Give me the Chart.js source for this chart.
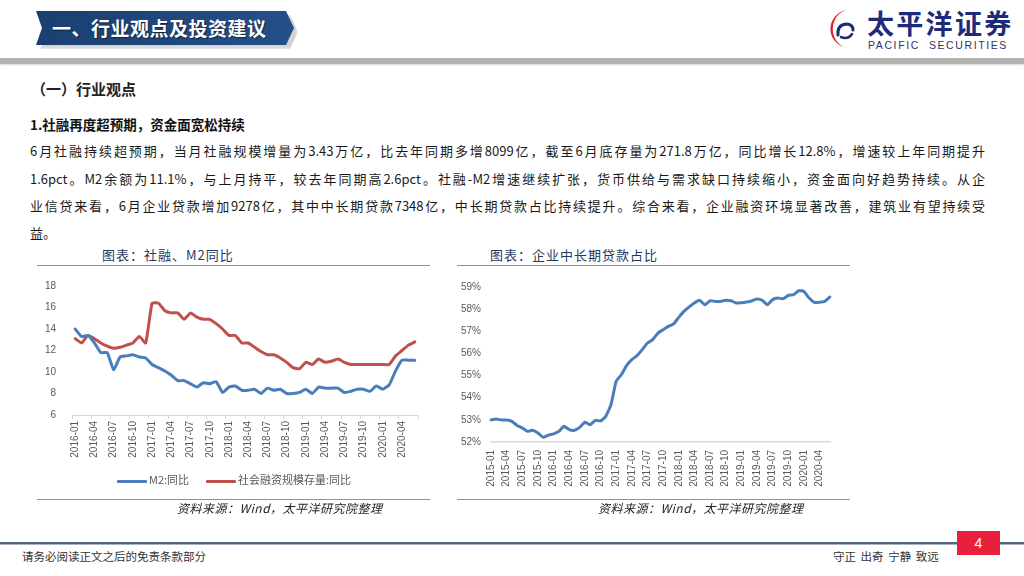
<!DOCTYPE html>
<html>
<head>
<meta charset="utf-8">
<script src="https://cdn.jsdelivr.net/npm/chart.js@4.4.0/dist/chart.umd.min.js"></script>
<style>
  * { margin: 0; padding: 0; box-sizing: border-box; }
  body { width: 1024px; height: 576px; background: #fff; position: relative; overflow: hidden; font-family: "Noto Sans CJK SC", "Noto Sans", sans-serif; color: #222; }
  .abs { position: absolute; white-space: nowrap; }
  .banner { left: 36px; top: 11px; width: 258px; height: 34px; background: linear-gradient(90deg, #1b3f70, #24508a); clip-path: polygon(0 0, 250px 0, 258px 50%, 250px 100%, 0 100%, 6px 50%); }
  .banner-shadow { left: 40px; top: 15px; width: 258px; height: 34px; background: rgba(0,0,0,.18); filter: blur(2px); clip-path: polygon(0 0, 250px 0, 258px 50%, 250px 100%, 0 100%, 6px 50%); }
  .banner-text { left: 52px; top: 14px; line-height: 28px; font-size: 19px; font-weight: bold; color: #fff; letter-spacing: 0.5px; text-shadow: 1px 1px 1px rgba(0,0,0,.5); }
  .topline { left: 0; top: 58px; width: 1024px; height: 6px; background: #b3b3b3; box-shadow: 0 1px 2px rgba(0,0,0,.15); }
  .para { left: 30px; width: 955px; font-size: 13px; line-height: 27px; text-align: justify; text-align-last: justify; color: #1a1a1a; }
  .ctitle { top: 246px; line-height: 18px; font-size: 13px; color: #1f3864; letter-spacing: 1px; }
  .rule { height: 1px; background: #6a9bd1; }
  .source { top: 499px; line-height: 18px; font-size: 12px; font-style: italic; color: #222; letter-spacing: 0.5px; }
  .legend { top: 470px; line-height: 18px; font-size: 11px; color: #595959; }
  .swatch { display: inline-block; width: 30px; height: 3px; vertical-align: middle; margin-right: 2px; border-radius: 1px; }
  canvas { position: absolute; }
</style>
</head>
<body>
<div class="abs banner-shadow"></div>
<div class="abs banner"></div>
<div class="abs banner-text">一、行业观点及投资建议</div>

<svg class="abs" style="left:826px;top:9px" width="36" height="40" viewBox="0 0 36 40">
  <path d="M25 1 A19 19 0 1 0 22 39 A14 16 0 0 1 25 1 Z" fill="#e0202e"/>
  <path d="M12 26 Q11 16 20 15 Q27 15 27 21" fill="none" stroke="#1e2a78" stroke-width="3" stroke-linecap="round"/>
  <path d="M15 28 Q22 31 26 25" fill="none" stroke="#1e2a78" stroke-width="2.5" stroke-linecap="round"/>
</svg>
<div class="abs" style="left:867px;top:6px;line-height:34px;font-size:27px;font-weight:bold;color:#1e2a7a;letter-spacing:2.3px">太平洋证券</div>
<div class="abs" style="left:868px;top:38px;line-height:14px;font-size:10.5px;color:#2f3468;letter-spacing:1.6px;font-family:'Liberation Sans',sans-serif">PACIFIC &nbsp;SECURITIES</div>
<div class="abs topline"></div>

<div class="abs" style="left:31px;top:79px;line-height:20px;font-size:15px;font-weight:bold;color:#222">（一）行业观点</div>
<div class="abs" style="left:30px;top:114px;line-height:20px;font-size:13.5px;font-weight:bold;color:#111">1.社融再度超预期，资金面宽松持续</div>
<div class="abs para" style="top:137px">6月社融持续超预期，当月社融规模增量为3.43万亿，比去年同期多增8099亿，截至6月底存量为271.8万亿，同比增长12.8%，增速较上年同期提升</div>
<div class="abs para" style="top:164.5px">1.6pct。M2余额为11.1%，与上月持平，较去年同期高2.6pct。社融-M2增速继续扩张，货币供给与需求缺口持续缩小，资金面向好趋势持续。从企</div>
<div class="abs para" style="top:192px">业信贷来看，6月企业贷款增加9278亿，其中中长期贷款7348亿，中长期贷款占比持续提升。综合来看，企业融资环境显著改善，建筑业有望持续受</div>
<div class="abs" style="left:30px;top:219px;font-size:13px;line-height:27px;color:#1a1a1a">益。</div>

<div class="abs ctitle" style="left:102px">图表：社融、M2同比</div>
<div class="abs ctitle" style="left:490px">图表：企业中长期贷款占比</div>
<div class="abs rule" style="left:37px;top:265px;width:393px"></div>
<div class="abs rule" style="left:457px;top:265px;width:393px"></div>

<canvas id="left-chart" width="394" height="200" style="left:36px;top:280px"></canvas>
<canvas id="right-chart" width="393" height="215" style="left:457px;top:280px"></canvas>

<div class="abs legend" style="left:117px"><span class="swatch" style="background:#4a7ebb"></span>M2:同比</div>
<div class="abs legend" style="left:206px"><span class="swatch" style="background:#c0504d"></span>社会融资规模存量:同比</div>

<div class="abs rule" style="left:37px;top:499px;width:393px"></div>
<div class="abs rule" style="left:457px;top:499px;width:393px"></div>
<div class="abs source" style="left:177px">资料来源：Wind，太平洋研究院整理</div>
<div class="abs source" style="left:598px">资料来源：Wind，太平洋研究院整理</div>

<div class="abs" style="left:0;top:542px;width:1024px;height:3px;background:#56657f;border-bottom:1px solid #a9b3c4"></div>
<div class="abs" style="left:22px;top:547px;line-height:18px;font-size:11.5px;color:#333">请务必阅读正文之后的免责条款部分</div>
<div class="abs" style="left:833px;top:547px;line-height:18px;font-size:11.5px;color:#333;word-spacing:2px">守正 出奇 宁静 致远</div>
<div class="abs" style="left:957px;top:531px;width:43px;height:24px;background:#e8203c;color:#fff;font-size:14px;line-height:24px;text-align:center;font-family:'Liberation Sans',sans-serif">4</div>

<script>
function monthRange(startYear, count) {
    const out = [];
    for (let i = 0; i < count; i++) {
        const y = startYear + Math.floor(i / 12);
        const m = (i % 12) + 1;
        out.push(`${y}-${m < 10 ? "0" + m : m}`);
    }
    return out;
}

// 左图：2016-01 ~ 2020-06
const leftMonths = monthRange(2016, 54);
const m2Yoy = [
    14.0, 13.3, 13.4, 12.7, 11.8, 11.8, 10.2, 11.4, 11.5, 11.6, 11.4, 11.3,
    10.7, 10.4, 10.1, 9.7, 9.2, 9.2, 8.9, 8.6, 9.0, 8.9, 9.1, 8.1,
    8.6, 8.7, 8.3, 8.3, 8.4, 8.0, 8.5, 8.3, 8.4, 8.0, 8.0, 8.1,
    8.4, 8.0, 8.6, 8.5, 8.5, 8.5, 8.1, 8.2, 8.4, 8.4, 8.2, 8.7,
    8.4, 8.8, 10.1, 11.1, 11.1, 11.1
];
const tsfYoy = [
    13.1, 12.7, 13.4, 13.1, 12.7, 12.4, 12.2, 12.3, 12.5, 12.7, 13.3, 12.7,
    16.4, 16.4, 15.7, 15.5, 15.5, 14.9, 15.5, 15.1, 14.9, 14.9, 14.5, 14.0,
    13.4, 13.4, 12.7, 12.7, 12.3, 11.9, 11.6, 11.6, 11.3, 10.9, 10.4, 10.3,
    10.9, 10.7, 11.2, 10.9, 11.0, 11.2, 10.9, 10.7, 10.7, 10.7, 10.7, 10.7,
    10.7, 10.7, 11.5, 12.0, 12.5, 12.8
];
const leftYTicks = { min: 6, max: 18, step: 2 };

// 右图：2015-01 ~ 2020-06
const rightMonths = monthRange(2015, 66);
const longTermShare = [
    53.00, 53.04, 52.99, 52.99, 52.93, 52.75, 52.63, 52.48, 52.53, 52.41,
    52.21, 52.31, 52.37, 52.48, 52.71, 52.56, 52.53, 52.66, 52.89, 52.78,
    52.98, 52.95, 53.16, 53.68, 54.74, 55.04, 55.45, 55.72, 55.90, 56.17,
    56.47, 56.62, 56.92, 57.07, 57.22, 57.33, 57.63, 57.90, 58.10, 58.28,
    58.40, 58.20, 58.38, 58.35, 58.35, 58.40, 58.38, 58.28, 58.29, 58.32,
    58.37, 58.46, 58.40, 58.20, 58.43, 58.50, 58.47, 58.62, 58.65, 58.83,
    58.80, 58.50, 58.31, 58.31, 58.35, 58.55
];
const rightYTicks = { min: 52, max: 59, step: 1 };

const axisFont = { family: "'Liberation Sans', Arial, sans-serif", size: 10 };
const axisColor = "#595959";

function lineSet(label, data, color) {
    return { label, data, borderColor: color, backgroundColor: color, borderWidth: 3, pointRadius: 0, tension: 0.15, borderCapStyle: "round", borderJoinStyle: "round" };
}

// y 轴固定宽度，并去掉刻度文字带来的上下留白，绘图区由 layout.padding 决定
function fixedYAxis(width) {
    return (s) => { s.width = width; s.paddingTop = 0; s.paddingBottom = 0; };
}

new Chart(document.getElementById("left-chart"), {
    type: "line",
    data: {
        labels: leftMonths,
        datasets: [lineSet("M2:同比", m2Yoy, "#4a7ebb"), lineSet("社会融资规模存量:同比", tsfYoy, "#c0504d")]
    },
    options: {
        responsive: false, animation: false,
        layout: { padding: { top: 6, right: 12, left: 0, bottom: 0 } },
        plugins: { legend: { display: false }, tooltip: { enabled: false } },
        scales: {
            x: {
                offset: true,
                grid: {
                    offset: true, drawOnChartArea: false, drawTicks: true, tickLength: 4,
                    color: (ctx) => (ctx.index === undefined || ctx.index % 3 === 0) ? "#d9d9d9" : "rgba(0,0,0,0)"
                },
                border: { color: "#d9d9d9" },
                ticks: { autoSkip: false, minRotation: 90, maxRotation: 90, padding: 2, font: axisFont, color: axisColor,
                    callback: (v, i) => i % 3 === 0 ? leftMonths[i] : "" },
                afterFit: (s) => { s.height = 65; }
            },
            y: {
                min: leftYTicks.min, max: leftYTicks.max,
                grid: { display: false, drawTicks: false },
                border: { display: false },
                ticks: { stepSize: leftYTicks.step, padding: 16, font: axisFont, color: axisColor },
                afterFit: fixedYAxis(36)
            }
        }
    }
});

new Chart(document.getElementById("right-chart"), {
    type: "line",
    data: {
        labels: rightMonths,
        datasets: [lineSet("企业中长期贷款占比", longTermShare, "#4a7ebb")]
    },
    options: {
        responsive: false, animation: false,
        layout: { padding: { top: 7, right: 12, left: 0, bottom: 0 } },
        plugins: { legend: { display: false }, tooltip: { enabled: false } },
        scales: {
            x: {
                offset: false,
                grid: { display: false, drawTicks: false },
                border: { color: "#d9d9d9", width: 1.5 },
                ticks: { autoSkip: false, minRotation: 90, maxRotation: 90, padding: 8, font: axisFont, color: axisColor,
                    callback: (v, i) => i % 3 === 0 ? rightMonths[i] : "" },
                afterFit: (s) => { s.height = 53; }
            },
            y: {
                min: rightYTicks.min, max: rightYTicks.max,
                grid: { display: false, drawTicks: false },
                border: { display: false },
                ticks: { stepSize: rightYTicks.step, padding: 10, font: axisFont, color: axisColor, callback: (v) => v + "%" },
                afterFit: fixedYAxis(34)
            }
        }
    }
});
</script>
</body>
</html>
